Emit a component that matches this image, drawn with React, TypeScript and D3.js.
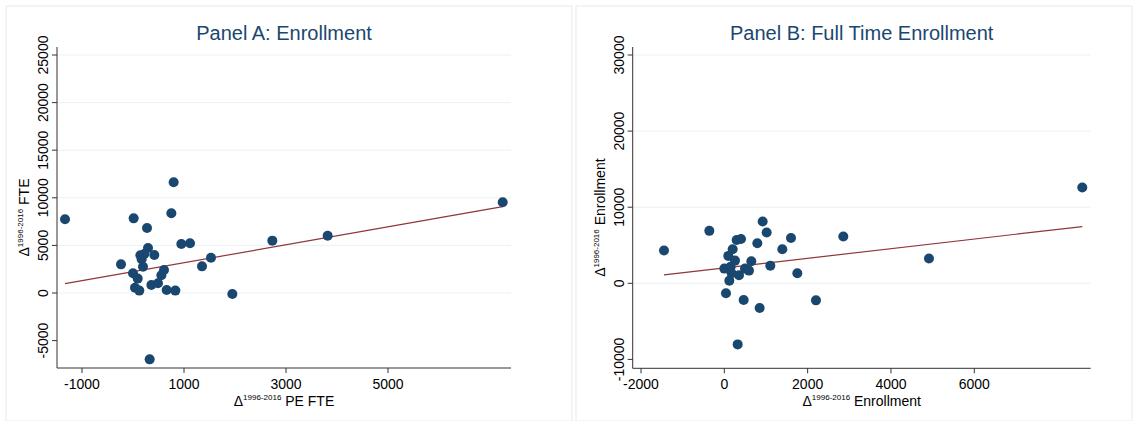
import React from 'react';
import * as d3 from 'd3';

// Panel A: Δ PE FTE vs Δ FTE
const peFte = [-1333, -235, 13, 0, 92, 39, 124, 144, 170, 222, 196, 294, 275, 418, 360, 490, 556, 608, 327, 660, 830, 752, 797, 948, 1118, 1353, 1529, 1948, 2732, 3817, 7249];
const fte = [7740, 3010, 7840, 2070, 1510, 560, 250, 3960, 3540, 4100, 2760, 4730, 6830, 3990, 840, 1020, 1860, 2420, -6970, 310, 250, 8370, 11630, 5150, 5220, 2800, 3710, -110, 5500, 6020, 9530];
const fitA = { intercept: 2237, slope: 0.943 };

// Panel B: Δ Enrollment vs Δ Full-time enrollment
const enrX = [-1448, -360, 0, 40, 96, 120, 152, 176, 200, 256, 296, 400, 320, 352, 464, 496, 592, 648, 792, 848, 920, 1016, 1104, 1392, 1600, 1752, 2200, 2856, 4912, 8592];
const enrY = [4300, 6890, 1930, -1316, 3600, 350, 2190, 1316, 4470, 2980, 5700, 5830, -8030, 1050, -2190, 1930, 1670, 2890, 5260, -3250, 8110, 6670, 2320, 4470, 5960, 1316, -2240, 6140, 3250, 12590];
const fitB = { intercept: 2017, slope: 0.633 };

const xTicksA = [-1000, 1000, 3000, 5000];
const yTicksA = [-5000, 0, 5000, 10000, 15000, 20000, 25000];
const xTicksB = [-2000, 0, 2000, 4000, 6000];
const yTicksB = [-10000, 0, 10000, 20000, 30000];

const NAVY = '#1a476f';
const FONT = '"Liberation Sans", Arial, sans-serif';

function Panel({ ox, title, xs, ys, fit, xTicks, yTicks, xDom, yDom, frame, xLabel, yLabel }) {
  const [l, t, r, b] = frame;
  const x = d3.scaleLinear().domain(xDom.slice(0, 2)).range([xDom[2], xDom[3]]);
  const y = d3.scaleLinear().domain(yDom.slice(0, 2)).range([yDom[2], yDom[3]]);
  const xmin = d3.min(xs), xmax = d3.max(xs);
  return (
    <g transform={`translate(${ox},0)`}>
      <rect x={6 - (ox ? 6 : 0)} y={6} width={ox ? 556 : 566} height={415} fill="white" stroke="#e3ecee" />
      <text x={(l + r) / 2} y={40} textAnchor="middle" fontSize={20} fill={NAVY} fontFamily={FONT}>{title}</text>
      {yTicks.map((v) => (
        <g key={v}>
          {v !== yTicks[0] && <line x1={l} x2={r} y1={y(v)} y2={y(v)} stroke="#eaf2f3" strokeWidth={1} />}
          <line x1={l - 5} x2={l} y1={y(v)} y2={y(v)} stroke="#333" />
          <text transform={`translate(${l - 9},${y(v)}) rotate(-90)`} textAnchor="middle" fontSize={14} fontFamily={FONT}>{v}</text>
        </g>
      ))}
      {xTicks.map((v) => (
        <g key={v}>
          <line x1={x(v)} x2={x(v)} y1={b} y2={b + 5} stroke="#333" />
          <text x={x(v)} y={b + 21} textAnchor="middle" fontSize={14} fontFamily={FONT}>{v}</text>
        </g>
      ))}
      <line x1={l} x2={l} y1={t} y2={b} stroke="#333" />
      <line x1={l} x2={r} y1={b} y2={b} stroke="#333" />
      <line x1={x(xmin)} x2={x(xmax)} y1={y(fit.intercept + fit.slope * xmin)} y2={y(fit.intercept + fit.slope * xmax)} stroke="#90353b" strokeWidth={1.2} />
      {xs.map((v, i) => (
        <circle key={i} cx={x(v)} cy={y(ys[i])} r={5} fill={NAVY} />
      ))}
      <text x={(l + r) / 2} y={b + 38} textAnchor="middle" fontSize={14} fontFamily={FONT}>
        Δ<tspan fontSize={8} dy={-6}>1996-2016</tspan><tspan dy={6}> {xLabel}</tspan>
      </text>
      <text transform={`translate(${l - 28},${(t + b) / 2 + 10}) rotate(-90)`} textAnchor="middle" fontSize={14} fontFamily={FONT}>
        Δ<tspan fontSize={8} dy={-6}>1996-2016</tspan><tspan dy={6}> {yLabel}</tspan>
      </text>
    </g>
  );
}

export default function App() {
  return (
    <svg width={1145} height={421} style={{ position: 'absolute', left: 0, top: 0, background: 'white' }}>
      <Panel ox={0} title="Panel A: Enrollment" xs={peFte} ys={fte} fit={fitA}
        xTicks={xTicksA} yTicks={yTicksA}
        xDom={[-1000, 5000, 82, 388]} yDom={[0, 25000, 293, 55]}
        frame={[57, 47, 511, 368]} xLabel="PE FTE" yLabel="FTE" />
      <Panel ox={576} title="Panel B: Full Time Enrollment" xs={enrX} ys={enrY} fit={fitB}
        xTicks={xTicksB} yTicks={yTicksB}
        xDom={[-2000, 6000, 65, 398.3]} yDom={[0, 30000, 283.3, 55]}
        frame={[56.7, 47, 514.7, 368.3]} xLabel="Enrollment" yLabel="Enrollment" />
    </svg>
  );
}
